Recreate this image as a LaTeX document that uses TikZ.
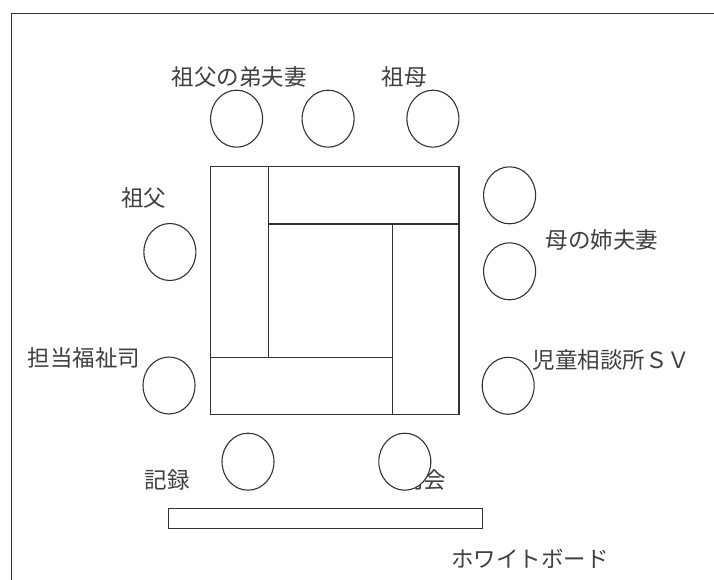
\documentclass[tikz,border=0pt]{standalone}
\usepackage{fontspec}
\newfontfamily\cjk{Noto Sans CJK JP}
\usetikzlibrary{shapes.geometric}
\begin{document}
\begin{tikzpicture}[x=1pt,y=-1pt,
  ln/.style={draw=black!80,line width=1.1pt},
  seat/.style={ellipse,ln,fill=white,minimum width=52pt,minimum height=57pt,inner sep=0pt},
  lbl/.style={font=\cjk\fontsize{22.5}{22.5}\selectfont,text=black!75,inner sep=0pt}]
\useasboundingbox (0,0) rectangle (714,580);
\fill[white] (0,0) rectangle (714,580);
% frame
\draw[ln] (11.4,580) -- (11.4,13.3) -- (714,13.3);
% table
\draw[ln] (210.4,166.7) rectangle (459,414.3);
\draw[ln] (268.7,166.7) -- (268.7,357.3);
\draw[ln] (268.7,224) -- (459,224);
\draw[ln] (210.4,357.3) -- (392.5,357.3);
\draw[ln] (392.5,224) -- (392.5,414.3);
% whiteboard
\draw[ln] (168.5,508.7) rectangle (482.7,528.7);
% labels
\node[lbl] (t1) at (239,76.7) {祖父の弟夫妻};
\node[lbl] (t2) at (404.4,76.7) {祖母};
\node[lbl] (t3) at (143.7,198) {祖父};
\node[lbl] (t4) at (602,240) {母の姉夫妻};
\node[lbl] (t5) at (83.8,358) {担当福祉司};
\node[lbl] (t6) at (611.5,360) {児童相談所ＳＶ};
\node[lbl] (t7) at (167,480) {記録};
\node[lbl] (t8) at (423.5,480) {司会};
\node[lbl] (t9) at (530,559) {ホワイトボード};
% seats
\node[seat] (s1) at (236.6,118.7) {};
\node[seat] (s2) at (328.1,118.7) {};
\node[seat] (s3) at (432.9,118.7) {};
\node[seat] (s4) at (509.6,195.3) {};
\node[seat] (s5) at (509.6,271.3) {};
\node[seat] (s6) at (169.9,252) {};
\node[seat] (s7) at (169,385.5) {};
\node[seat] (s8) at (508.2,385.8) {};
\node[seat] (s9) at (248,461.7) {};
\node[seat] (s10) at (404.8,461.7) {};
\end{tikzpicture}
\end{document}
